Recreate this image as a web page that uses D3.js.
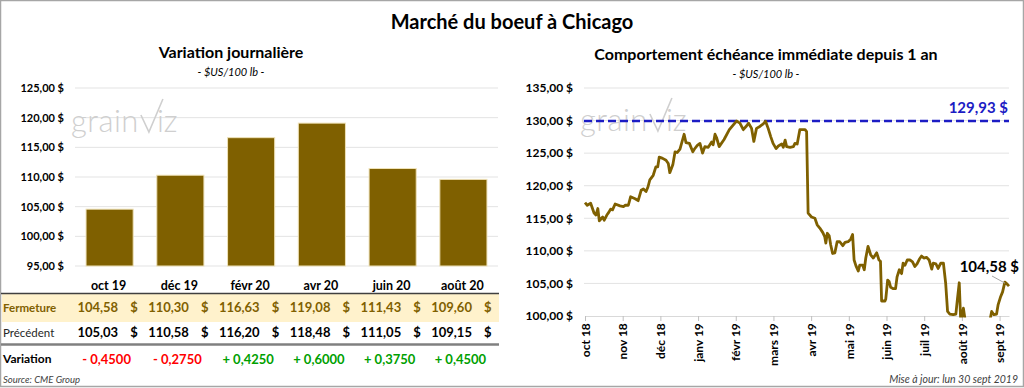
<!DOCTYPE html>
<html>
<head>
<meta charset="utf-8">
<script src="https://cdn.jsdelivr.net/npm/d3@7"></script>
<style>
  body { margin: 0; background: #fff; }
  svg { display: block; font-family: Lato, "Open Sans", sans-serif; }
</style>
</head>
<body>
<div id="chart"></div>
<script>
// 1: DATA
const echeances = ["oct 19", "déc 19", "févr 20", "avr 20", "juin 20", "août 20"];
const fermeture = [104.58, 110.30, 116.63, 119.08, 111.43, 109.60];
const precedent = [105.03, 110.58, 116.20, 118.48, 111.05, 109.15];
const variation = [-0.45, -0.275, 0.425, 0.60, 0.375, 0.45];
const ticksGauche = [95, 100, 105, 110, 115, 120, 125];

const moisLabels = ["oct 18", "nov 18", "déc 18", "janv 19", "févr 19", "mars 19",
                    "avr 19", "mai 19", "juin 19", "juil 19", "août 19", "sept 19"];
const ticksDroite = [100, 105, 110, 115, 120, 125, 130, 135];
// position in months since oct 2018
const serieMois = [0.00, 0.06, 0.15, 0.24, 0.29, 0.34, 0.38, 0.47, 0.51, 0.58,
  0.63, 0.68, 0.73, 0.80, 0.93, 1.02, 1.07, 1.15, 1.21, 1.33,
  1.41, 1.49, 1.55, 1.62, 1.67, 1.72, 1.81, 1.88, 1.93, 1.97,
  2.06, 2.15, 2.21, 2.25, 2.33, 2.39, 2.45, 2.52, 2.63, 2.68,
  2.77, 2.86, 2.90, 2.98, 3.05, 3.12, 3.18, 3.27, 3.36, 3.40,
  3.45, 3.49, 3.56, 3.69, 3.83, 3.93, 4.02, 4.11, 4.20, 4.29,
  4.34, 4.42, 4.48, 4.55, 4.64, 4.73, 4.79, 4.86, 4.93, 4.99,
  5.07, 5.13, 5.22, 5.26, 5.31, 5.35, 5.44, 5.53, 5.57, 5.63,
  5.70, 5.84, 5.88, 5.92, 6.01, 6.10, 6.16, 6.23, 6.31, 6.36,
  6.39, 6.43, 6.48, 6.52, 6.57, 6.63, 6.69, 6.76, 6.84, 6.90,
  6.98, 7.05, 7.10, 7.14, 7.19, 7.25, 7.29, 7.37, 7.41, 7.45,
  7.51, 7.58, 7.65, 7.74, 7.80, 7.84, 7.87, 7.96, 7.98, 8.03,
  8.07, 8.11, 8.18, 8.24, 8.28, 8.34, 8.40, 8.44, 8.49, 8.55,
  8.62, 8.69, 8.75, 8.81, 8.87, 8.93, 8.99, 9.06, 9.13, 9.20,
  9.24, 9.31, 9.37, 9.44, 9.51, 9.57, 9.62, 9.68, 9.77, 9.84,
  9.88, 9.93, 9.97, 10.04, 10.08, 10.21, 10.48, 10.74, 10.79, 10.85,
  10.92, 10.96, 11.03, 11.08, 11.14, 11.20, 11.25];
const serieValeurs = [117.4, 117.0, 117.3, 115.8, 115.5, 116.5, 114.6, 115.2, 114.7, 115.5,
  115.9, 116.4, 116.3, 117.2, 116.9, 116.8, 117.0, 117.0, 118.3, 118.0,
  117.7, 119.3, 119.5, 119.1, 119.8, 120.9, 121.6, 122.9, 122.9, 124.4,
  124.2, 123.9, 123.4, 122.0, 123.2, 125.2, 125.1, 125.6, 127.9, 126.6,
  126.5, 125.2, 125.6, 126.2, 126.5, 125.0, 126.0, 125.9, 126.7, 126.3,
  127.9, 127.4, 126.0, 127.1, 128.6, 129.3, 129.93, 129.6, 128.6, 129.2,
  129.6, 128.8, 126.8, 128.8, 129.1, 129.5, 129.9, 128.8, 127.5, 126.5,
  125.7, 126.1, 126.4, 125.9, 127.0, 126.0, 125.9, 126.0, 126.5, 126.4,
  128.6, 128.6, 128.3, 115.8, 115.2, 115.0, 114.0, 113.5, 112.8, 112.2,
  111.2, 112.7, 112.3, 110.9, 109.6, 109.7, 111.4, 111.4, 110.8, 111.3,
  111.4, 111.8, 112.5, 108.6, 107.7, 106.9, 107.8, 107.8, 107.1, 108.9,
  110.7, 109.4, 108.9, 109.7, 108.6, 108.4, 102.3, 102.3, 102.6, 105.5,
  105.3, 104.4, 104.2, 104.2, 106.0, 107.1, 106.5, 108.1, 107.8, 108.6,
  108.6, 108.3, 107.6, 108.0, 108.7, 109.2, 108.9, 109.0, 108.6, 107.2,
  108.1, 108.0, 107.3, 108.1, 108.1, 105.0, 100.7, 100.3, 100.2, 100.3,
  102.5, 105.1, 99.0, 101.2, 99.6, 98.5, 98.2, 99.2, 100.7, 100.2,
  100.3, 101.7, 103.0, 103.7, 105.2, 104.9, 104.58];
const maxAn = 129.93;
const dernier = 104.58;

// 2: SETUP
const W = 1024, H = 388;
const brun = "#7f6000";
const fr = d3.formatLocale({ decimal: ",", thousands: " ", grouping: [3], currency: ["", " $"] });
const f2 = fr.format(".2f");
const f4 = fr.format(".4f");
const dollars = v => f2(v) + " $";

const svg = d3.select("#chart").append("svg")
    .attr("width", W).attr("height", H);

svg.append("rect")
    .attr("x", 0.5).attr("y", 0.5).attr("width", W - 1).attr("height", H - 2)
    .attr("fill", "#fff").attr("stroke", "#a6a6a6").attr("stroke-width", 1.5);

svg.append("text")
    .attr("x", 512).attr("y", 29).attr("text-anchor", "middle")
    .attr("font-size", 20).attr("font-weight", "bold")
    .text("Marché du boeuf à Chicago");

// watermark helper: "grain" + check-mark V + "iz"
function grainviz(g, x, y) {
    const w = g.append("g").attr("transform", `translate(${x},${y})`).attr("fill", "#cfcfcf");
    const t = w.append("text").attr("font-size", 31).attr("font-weight", 300)
        .attr("letter-spacing", 0.5).text("grain");
    const tw = t.node().getComputedTextLength();
    w.append("path")
        .attr("d", `M${tw + 2},-17 L${tw + 10},0 L${tw + 24},-33`)
        .attr("fill", "none").attr("stroke", "#cfcfcf").attr("stroke-width", 1.6);
    w.append("text").attr("x", tw + 18).attr("font-size", 31).attr("font-weight", 300).text("iz");
}

// ==========================================
//         CHART 1: Variation journalière
// ==========================================
const left = svg.append("g");

left.append("text")
    .attr("x", 231).attr("y", 58).attr("text-anchor", "middle")
    .attr("font-size", 16).attr("font-weight", "bold")
    .text("Variation journalière");
left.append("text")
    .attr("x", 231).attr("y", 76).attr("text-anchor", "middle")
    .attr("font-size", 11).attr("font-style", "italic")
    .text("- $US/100 lb -");

const xL = d3.scaleBand().domain(echeances).range([75, 498])
    .paddingInner(0.334).paddingOuter(0.156);
const yL = d3.scaleLinear().domain([95, 125]).range([266, 88]);

left.append("g")
    .selectAll("line").data(ticksGauche).join("line")
    .attr("x1", 75).attr("x2", 498)
    .attr("y1", d => yL(d)).attr("y2", d => yL(d))
    .attr("stroke", "#e3e3e3").attr("stroke-width", 1);

const axL = left.append("g")
    .attr("transform", "translate(75,0)")
    .call(d3.axisLeft(yL).tickValues(ticksGauche).tickFormat(dollars).tickSize(0).tickPadding(11));
axL.select(".domain").remove();
axL.selectAll("text").attr("font-size", 11).attr("font-weight", "bold")
    .attr("font-family", "Lato, sans-serif").attr("fill", "#000");

grainviz(left, 71, 132);

left.selectAll("rect.bar").data(echeances).join("rect")
    .attr("class", "bar")
    .attr("x", d => xL(d))
    .attr("width", xL.bandwidth())
    .attr("y", (d, i) => yL(fermeture[i]))
    .attr("height", (d, i) => yL(95) - yL(fermeture[i]))
    .attr("fill", brun).attr("stroke", "#efe2b8").attr("stroke-width", 1);

// table
const cx = d => xL(d) + xL.bandwidth() / 2;
const xr = d => xL(d) + xL.bandwidth();

left.append("rect")
    .attr("x", 2).attr("y", 294).attr("width", 497).attr("height", 28)
    .attr("fill", "#fff2cc");
left.append("line")
    .attr("x1", 1).attr("x2", 499).attr("y1", 293.5).attr("y2", 293.5)
    .attr("stroke", "#404040").attr("stroke-width", 1.5);
left.append("line")
    .attr("x1", 1).attr("x2", 499).attr("y1", 344.5).attr("y2", 344.5)
    .attr("stroke", "#808080").attr("stroke-width", 2.5);

left.selectAll("text.cat").data(echeances).join("text")
    .attr("class", "cat")
    .attr("x", d => cx(d) - 1).attr("y", 290).attr("text-anchor", "middle")
    .attr("font-size", 12.5).attr("font-weight", "bold")
    .text(d => d);

const rows = [
    { label: "Fermeture", vals: fermeture, y: 312, color: brun, labColor: brun, labWeight: "bold" },
    { label: "Précédent", vals: precedent, y: 337, color: "#000", labColor: "#262626", labWeight: "normal" }
];
rows.forEach(r => {
    left.append("text").attr("x", 3).attr("y", r.y)
        .attr("font-size", 11.5).attr("font-weight", r.labWeight).attr("fill", r.labColor).text(r.label);
    left.selectAll(null).data(echeances).join("text")
        .attr("x", d => xr(d) - 15).attr("y", r.y).attr("text-anchor", "end")
        .attr("font-size", 13).attr("font-weight", "bold").attr("fill", r.color)
        .text((d, i) => f2(r.vals[i]));
    left.selectAll(null).data(echeances).join("text")
        .attr("x", d => xr(d) - 3).attr("y", r.y)
        .attr("font-size", 13).attr("font-weight", "bold").attr("fill", r.color)
        .text("$");
});

left.append("text").attr("x", 3).attr("y", 363)
    .attr("font-size", 12).attr("font-weight", "bold").text("Variation");
left.selectAll(null).data(echeances).join("text")
    .attr("x", d => cx(d) - 3).attr("y", 364).attr("text-anchor", "middle")
    .attr("font-size", 13).attr("font-weight", "bold")
    .attr("fill", (d, i) => variation[i] < 0 ? "#ff0000" : "#00a000")
    .text((d, i) => (variation[i] < 0 ? "- " : "+ ") + f4(Math.abs(variation[i])));

left.append("text").attr("x", 3).attr("y", 383)
    .attr("font-size", 9.5).attr("font-style", "italic").attr("fill", "#404040")
    .text("Source: CME Group");

// ==========================================
//   CHART 2: Comportement échéance immédiate
// ==========================================
const right = svg.append("g");

right.append("text")
    .attr("x", 766).attr("y", 60).attr("text-anchor", "middle")
    .attr("font-size", 16).attr("font-weight", "bold")
    .text("Comportement échéance immédiate depuis 1 an");
right.append("text")
    .attr("x", 766).attr("y", 78).attr("text-anchor", "middle")
    .attr("font-size", 11).attr("font-style", "italic")
    .text("- $US/100 lb -");

const xR = d3.scaleLinear().domain([0, 11.25]).range([585, 1009]);
const yR = d3.scaleLinear().domain([100, 135]).range([316, 88]);

right.append("g")
    .selectAll("line").data(ticksDroite.slice(1)).join("line")
    .attr("x1", 584).attr("x2", 1009)
    .attr("y1", d => yR(d)).attr("y2", d => yR(d))
    .attr("stroke", "#e3e3e3").attr("stroke-width", 1);

const axR = right.append("g")
    .attr("transform", "translate(584,0)")
    .call(d3.axisLeft(yR).tickValues(ticksDroite).tickFormat(dollars).tickSize(0).tickPadding(11));
axR.select(".domain").remove();
axR.selectAll("text").attr("font-size", 12).attr("font-weight", "bold")
    .attr("font-family", "Lato, sans-serif").attr("fill", "#000");

grainviz(right, 580, 131);

const axX = right.append("g")
    .attr("transform", `translate(0,${yR(100)})`)
    .call(d3.axisBottom(xR).tickValues(d3.range(moisLabels.length))
        .tickFormat(i => moisLabels[i]).tickSize(5).tickSizeOuter(0));
axX.select(".domain").attr("stroke", "#d9d9d9");
axX.selectAll(".tick line").attr("stroke", "#bfbfbf");
axX.selectAll("text")
    .attr("font-size", 12).attr("font-weight", "bold").attr("font-family", "Lato, sans-serif")
    .attr("fill", "#000")
    .attr("transform", "rotate(-90)")
    .attr("text-anchor", "end").attr("dx", "-0.6em").attr("dy", "0.35em").attr("y", 0).attr("x", 0);

// max line
right.append("line")
    .attr("x1", 584).attr("x2", 1009)
    .attr("y1", yR(maxAn)).attr("y2", yR(maxAn))
    .attr("stroke", "#1c1cc4").attr("stroke-width", 2.5).attr("stroke-dasharray", "8,4");
right.append("text")
    .attr("x", 1008).attr("y", yR(maxAn) - 8).attr("text-anchor", "end")
    .attr("font-size", 15).attr("font-weight", "bold").attr("fill", "#1c1cc4")
    .text(dollars(maxAn));

// price line clipped to plot
svg.append("defs").append("clipPath").attr("id", "clipR")
    .append("rect").attr("x", 580).attr("y", 80).attr("width", 440).attr("height", 237.5);

const serie = serieMois.map((m, i) => ({ m: m, v: serieValeurs[i] }));
right.append("path")
    .datum(serie)
    .attr("clip-path", "url(#clipR)")
    .attr("fill", "none").attr("stroke", brun).attr("stroke-width", 2.8)
    .attr("stroke-linejoin", "round")
    .attr("d", d3.line().x(d => xR(d.m)).y(d => yR(d.v)));

// last value label
const last = serie[serie.length - 1];
right.append("line")
    .attr("x1", 992).attr("y1", 276).attr("x2", xR(last.m) - 4).attr("y2", yR(last.v) - 3)
    .attr("stroke", "#a6a6a6").attr("stroke-width", 1);
right.append("text")
    .attr("x", 1019).attr("y", 272).attr("text-anchor", "end")
    .attr("font-size", 15).attr("font-weight", "bold").attr("fill", "#000")
    .text(dollars(dernier));

right.append("text")
    .attr("x", 1018).attr("y", 383).attr("text-anchor", "end")
    .attr("font-size", 10.5).attr("font-style", "italic").attr("fill", "#404040")
    .text("Mise à jour: lun 30 sept 2019");
</script>
</body>
</html>
